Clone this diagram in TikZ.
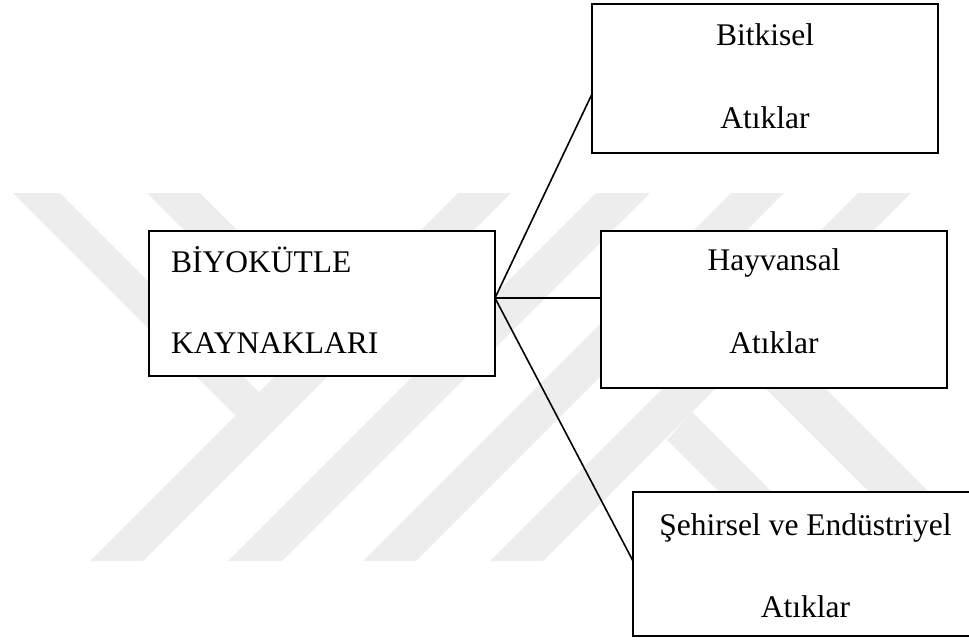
\documentclass[tikz,border=0pt]{standalone}
\usepackage{fontspec}
\setmainfont{Liberation Serif}
\usetikzlibrary{calc}
\definecolor{wmark}{RGB}{237,237,237}
\begin{document}
\begin{tikzpicture}[x=1pt,y=-1pt,
  box/.style={draw=black, line width=2pt, fill=white, rectangle,
              inner sep=0pt, outer sep=0pt, anchor=north west},
  lbl/.style={inner sep=0pt, font=\fontsize{31.5}{36}\selectfont},
  link/.style={draw=black, line width=1.6pt},
  band/.style={fill=wmark, draw=none}]
\useasboundingbox (0,0) rectangle (969,643);
\begin{scope}
\clip (0,0) rectangle (969,643);

% background emblem: slanted stripes
\foreach \b/\w in {90/53, 228/54, 363/53, 490/53}
  \path[band] (\b,561) -- ++(\w,0) -- ++(368,-368) -- ++(-\w,0) -- cycle;
\path[band] (13,193) -- (60,193) -- (259,392) -- (235.5,415.5) -- cycle;
\path[band] (147,193) -- (200,193) -- (329,322) -- (302.5,348.5) -- cycle;
\path[band] (667,440) -- (788,561) -- (841,561) -- (692,412) -- cycle;
\path[band] (740.5,363.5) -- (938,561) -- (998,561) -- (770.5,333.5) -- cycle;

% boxes
\node[box, minimum width=346pt, minimum height=145pt] (src) at (149,231) {};
\node[box, minimum width=346pt, minimum height=149pt] (bit) at (592,4) {};
\node[box, minimum width=346pt, minimum height=157pt] (hay) at (601,231) {};
\node[box, minimum width=345pt, minimum height=144pt] (seh) at (633,492) {};

% connectors
\coordinate (hub) at ($(src.north east)!0.462!(src.south east)$);
\draw[link] (hub) -- ($(bit.north west)!0.604!(bit.south west)$);
\draw[link] (hub) -- (hay.west |- hub);
\draw[link] (hub) -- ($(seh.north west)!0.479!(seh.south west)$);

% labels
\node[lbl, anchor=base west] (src1) at (171,272) {BİYOKÜTLE};
\node[lbl, anchor=base west] (src2) at (171,353) {KAYNAKLARI};
\node[lbl, anchor=base] (bit1) at (765,45) {Bitkisel};
\node[lbl, anchor=base] (bit2) at (765,128) {Atıklar};
\node[lbl, anchor=base] (hay1) at (774,270) {Hayvansal};
\node[lbl, anchor=base] (hay2) at (774,353) {Atıklar};
\node[lbl, anchor=base] (seh1) at (805.5,535) {Şehirsel ve Endüstriyel};
\node[lbl, anchor=base] (seh2) at (805.5,617) {Atıklar};
\end{scope}
\end{tikzpicture}
\end{document}
